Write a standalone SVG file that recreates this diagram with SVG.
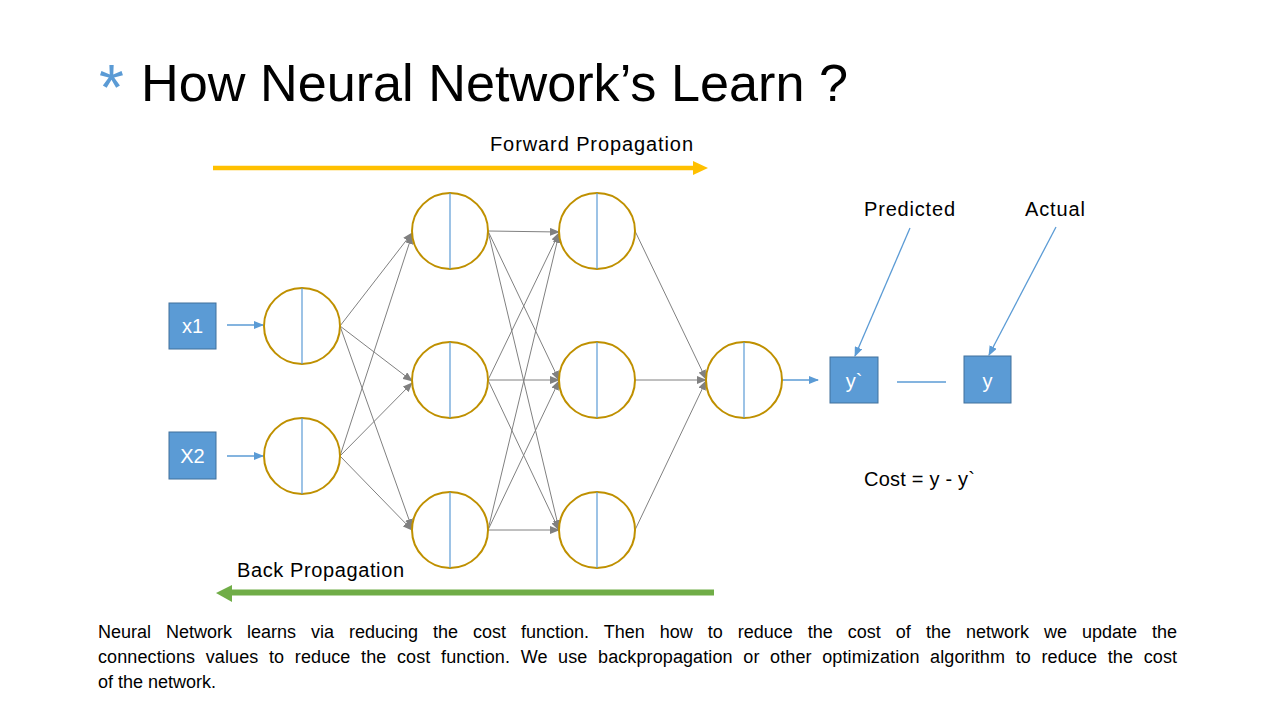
<svg xmlns="http://www.w3.org/2000/svg" width="1280" height="720" viewBox="0 0 1280 720">
<style>
  text { font-family: "Liberation Sans", Arial, sans-serif; fill: #000; }
  .neuron circle { fill: #fff; stroke: #BF9000; stroke-width: 2; }
  .neuron line { stroke: #5B9BD5; stroke-width: 1.2; }
  .box rect { fill: #5B9BD5; stroke: #41719C; stroke-width: 1; }
  .box text { fill: #fff; font-size: 20px; text-anchor: middle; }
  .conn line { stroke: #808080; stroke-width: 1; marker-end: url(#ga); }
  .blue line { stroke: #5B9BD5; stroke-width: 1.3; }
  .lbl { font-size: 20px; }
</style>
<defs>
  <marker id="ga" markerUnits="userSpaceOnUse" markerWidth="10" markerHeight="8" refX="9" refY="4" orient="auto">
    <path d="M0,0 L10,4 L0,8 Z" fill="#808080"/>
  </marker>
  <marker id="ba" markerUnits="userSpaceOnUse" markerWidth="10" markerHeight="8" refX="9" refY="4" orient="auto">
    <path d="M0,0 L10,4 L0,8 Z" fill="#5B9BD5"/>
  </marker>
</defs>
<rect width="1280" height="720" fill="#fff"/>

<g id="title">
  <text x="99" y="110" font-size="64" style="fill:#5B9BD5">*</text>
  <text x="141" y="101" font-size="52" textLength="707" lengthAdjust="spacingAndGlyphs">How Neural Network’s Learn ?</text>
</g>

<g id="forward">
  <line x1="213" y1="168" x2="694" y2="168" stroke="#FFC000" stroke-width="4.5"/>
  <polygon points="693,161 708,168 693,175" fill="#FFC000"/>
  <text class="lbl" x="490" y="151" textLength="203" lengthAdjust="spacing">Forward Propagation</text>
</g>

<g id="backward">
  <line x1="714" y1="592.5" x2="230" y2="592.5" stroke="#70AD47" stroke-width="6"/>
  <polygon points="232,585 216,593 232,602" fill="#70AD47"/>
  <text class="lbl" x="237" y="577" textLength="167" lengthAdjust="spacing">Back Propagation</text>
</g>

<g id="connectors">
  <g class="blue">
    <line x1="227" y1="325" x2="263" y2="325" marker-end="url(#ba)"/>
    <line x1="227" y1="456" x2="263" y2="456" marker-end="url(#ba)"/>
    <line x1="782" y1="380" x2="818" y2="380" marker-end="url(#ba)"/>
    <line x1="910" y1="228" x2="855" y2="356" marker-end="url(#ba)"/>
    <line x1="1056" y1="227" x2="989" y2="355" marker-end="url(#ba)"/>
    <line x1="897" y1="382" x2="946" y2="382"/>
  </g>
  <g class="conn">
    <line x1="340" y1="326" x2="412" y2="233"/>
    <line x1="340" y1="326" x2="412" y2="381"/>
    <line x1="340" y1="326" x2="412" y2="528"/>
    <line x1="340" y1="456" x2="412" y2="235"/>
    <line x1="340" y1="456" x2="412" y2="383"/>
    <line x1="340" y1="456" x2="412" y2="530"/>
    <line x1="488" y1="231" x2="559" y2="232"/>
    <line x1="488" y1="231" x2="559" y2="380"/>
    <line x1="488" y1="231" x2="559" y2="529"/>
    <line x1="488" y1="380" x2="559" y2="233"/>
    <line x1="488" y1="380" x2="559" y2="380"/>
    <line x1="488" y1="380" x2="559" y2="530"/>
    <line x1="488" y1="530" x2="559" y2="234"/>
    <line x1="488" y1="530" x2="559" y2="381"/>
    <line x1="488" y1="530" x2="559" y2="530"/>
    <line x1="635" y1="231" x2="706" y2="379"/>
    <line x1="635" y1="380" x2="706" y2="380"/>
    <line x1="635" y1="530" x2="706" y2="381"/>
  </g>
</g>

<g id="x1" class="box"><rect x="169" y="303" width="47" height="46"/><text x="192.5" y="333">x1</text></g>
<g id="x2" class="box"><rect x="169" y="432" width="47" height="47"/><text x="192.5" y="463">X2</text></g>

<g id="h1-1" class="neuron"><circle cx="302" cy="326" r="38"/><line x1="302" y1="288" x2="302" y2="364"/></g>
<g id="h1-2" class="neuron"><circle cx="302" cy="456" r="38"/><line x1="302" y1="418" x2="302" y2="494"/></g>

<g id="h2-1" class="neuron"><circle cx="450" cy="231" r="38"/><line x1="450" y1="193" x2="450" y2="269"/></g>
<g id="h2-2" class="neuron"><circle cx="450" cy="380" r="38"/><line x1="450" y1="342" x2="450" y2="418"/></g>
<g id="h2-3" class="neuron"><circle cx="450" cy="530" r="38"/><line x1="450" y1="492" x2="450" y2="568"/></g>

<g id="h3-1" class="neuron"><circle cx="597" cy="231" r="38"/><line x1="597" y1="193" x2="597" y2="269"/></g>
<g id="h3-2" class="neuron"><circle cx="597" cy="380" r="38"/><line x1="597" y1="342" x2="597" y2="418"/></g>
<g id="h3-3" class="neuron"><circle cx="597" cy="530" r="38"/><line x1="597" y1="492" x2="597" y2="568"/></g>

<g id="out" class="neuron"><circle cx="744" cy="380" r="38"/><line x1="744" y1="342" x2="744" y2="418"/></g>

<g id="ypred" class="box"><rect x="830" y="357" width="48" height="46"/><text x="854" y="388">y`</text></g>
<g id="yact" class="box"><rect x="964" y="356" width="47" height="47"/><text x="987.5" y="388">y</text></g>

<g id="labels">
  <text class="lbl" x="864" y="216" textLength="91" lengthAdjust="spacing">Predicted</text>
  <text class="lbl" x="1025" y="216" textLength="60" lengthAdjust="spacing">Actual</text>
  <text class="lbl" x="864" y="486" textLength="111" lengthAdjust="spacing">Cost = y - y`</text>
</g>

<g id="paragraph" font-size="18">
  <text x="98" y="638" word-spacing="10" textLength="1079" lengthAdjust="spacing">Neural Network learns via reducing the cost function. Then how to reduce the cost of the network we update the</text>
  <text x="98" y="663" word-spacing="5.5" textLength="1079" lengthAdjust="spacing">connections values to reduce the cost function. We use backpropagation or other optimization algorithm to reduce the cost</text>
  <text x="98" y="688">of the network.</text>
</g>
</svg>
